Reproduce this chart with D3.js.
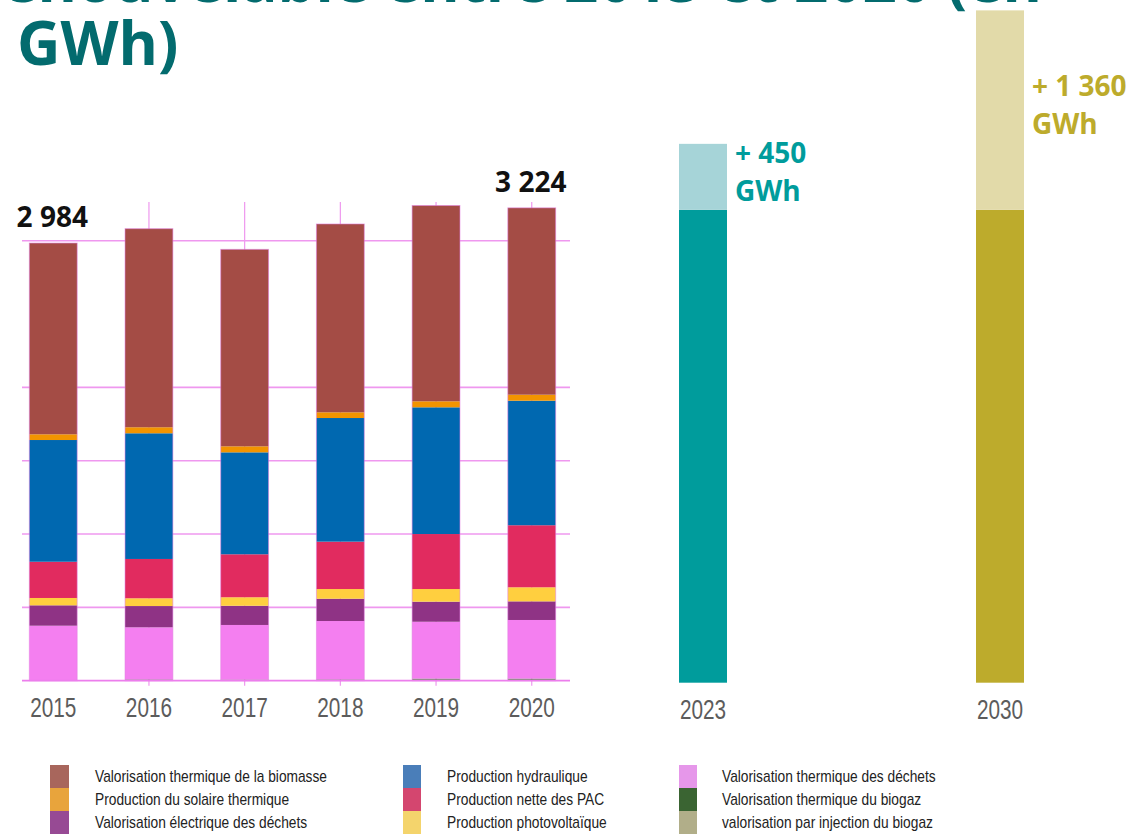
<!DOCTYPE html>
<html>
<head>
<meta charset="utf-8">
<script src="https://cdn.jsdelivr.net/npm/d3@7"></script>
<style>
  body { margin: 0; background: #fff; }
  .title { font-family: "Open Sans", sans-serif; font-weight: 700; fill: #036b6e; }
  .total { font-family: "Open Sans", sans-serif; font-weight: 700; font-size: 28px; fill: #111; }
  .year { font-family: "Liberation Sans", Arial, sans-serif; font-size: 27px; fill: #5c5c5c; }
  .legend text { font-family: "Liberation Sans", Arial, sans-serif; font-size: 16px; fill: #222; }
  .target { font-family: "Open Sans", sans-serif; font-weight: 700; font-size: 28px; }
</style>
</head>
<body>
<div id="chart"></div>
<script>

// yearly production, GWh
var years = ["2015", "2016", "2017", "2018", "2019", "2020"];
var injectionBiogaz = [0, 0, 0, 0, 8, 8];
var thermiqueBiogaz = [4, 8, 7, 8, 6, 6];
var thermiqueDechets = [371, 356, 373, 399, 388, 400];
var electriqueDechets = [139, 145, 131, 152, 137, 127];
var photovoltaique = [50, 53, 58, 66, 86, 96];
var pac = [247, 268, 293, 323, 375, 423];
var hydraulique = [830, 857, 695, 843, 864, 849];
var solaireThermique = [39, 41, 41, 39, 41, 41];
var biomasse = [1304, 1354, 1343, 1284, 1335, 1274];

// years that get a total on top
var labelledYears = ["2015", "2020"];

// targets
var targetYears = ["2023", "2030"];
var targetBase = [3224, 3224];
var targetIncrease = [450, 1360];

var gridValues = [500, 1000, 1500, 2000, 3000];

// series, bottom to top
var seriesKeys = ["injection", "thermBiogaz", "thermDechets", "elecDechets", "pv", "pac", "hydro", "solaire", "biomasse"];
var seriesValues = [injectionBiogaz, thermiqueBiogaz, thermiqueDechets, electriqueDechets, photovoltaique, pac, hydraulique, solaireThermique, biomasse];
var barColors = ["#8c8a72", "#3b6530", "#f47ff0", "#8f3385", "#ffcf3f", "#e12b5f", "#0068b0", "#f29400", "#a44c45"];

// legend, column by column
var legendLabels = [
  "Valorisation thermique de la biomasse",
  "Production du solaire thermique",
  "Valorisation électrique des déchets",
  "Production hydraulique",
  "Production nette des PAC",
  "Production photovoltaïque",
  "Valorisation thermique des déchets",
  "Valorisation thermique du biogaz",
  "valorisation par injection du biogaz"
];
var legendColors = ["#a8665c", "#e8a43c", "#974a94", "#4a7eb9", "#d4466f", "#f4d46c", "#e697ea", "#3a6432", "#b1ae89"];

var svgWidth = 1144;
var svgHeight = 835;

// no narrow font installed, so squeeze the regular one
var yearSqueeze = 0.77;
var legendSqueeze = 0.86;

var svg = d3.select("#chart")
  .append("svg")
  .attr("width", svgWidth)
  .attr("height", svgHeight);

// title (first line is cut off at the top)
svg.append("text")
  .attr("class", "title")
  .attr("x", 1042)
  .attr("y", 2)
  .attr("text-anchor", "end")
  .style("font-size", "60px")
  .text("renouvelable entre 2015 et 2020 (en");

svg.append("text")
  .attr("class", "title")
  .attr("x", 17)
  .attr("y", 65)
  .style("font-size", "60px")
  .text("GWh)");

// build rows for the stack
var rows = years.map(function(year, i) {
  var row = { year: year };
  seriesKeys.forEach(function(k, j) { row[k] = seriesValues[j][i]; });
  return row;
});

var stacked = d3.stack().keys(seriesKeys)(rows);

var x = d3.scaleBand()
  .domain(years)
  .range([5.4, 579.6])
  .paddingInner(0.5)
  .paddingOuter(0.25);

var y = d3.scaleLinear()
  .domain([0, 3000])
  .range([680.7, 240.7]);

var gridColor = "#ef98ef";

// vertical lines at bar centres
svg.append("g")
  .selectAll("line")
  .data(years.slice(1))
  .enter()
  .append("line")
  .attr("x1", d => x(d) + x.bandwidth() / 2)
  .attr("x2", d => x(d) + x.bandwidth() / 2)
  .attr("y1", 202)
  .attr("y2", y(0) + 5)
  .attr("stroke", gridColor)
  .attr("stroke-width", 1.2);

// horizontal grid
svg.append("g")
  .selectAll("line")
  .data(gridValues)
  .enter()
  .append("line")
  .attr("x1", 22)
  .attr("x2", 570)
  .attr("y1", d => y(d))
  .attr("y2", d => y(d))
  .attr("stroke", gridColor)
  .attr("stroke-width", 1.6);

// stacked bars
svg.append("g")
  .selectAll("g")
  .data(stacked)
  .enter()
  .append("g")
  .attr("fill", (d, i) => barColors[i])
  .selectAll("rect")
  .data(d => d)
  .enter()
  .append("rect")
  .attr("x", d => x(d.data.year))
  .attr("width", x.bandwidth())
  .attr("y", d => y(d[1]))
  .attr("height", d => y(d[0]) - y(d[1]));

// thin pink outline round each bar
svg.append("g")
  .selectAll("rect")
  .data(rows)
  .enter()
  .append("rect")
  .attr("x", d => x(d.year))
  .attr("width", x.bandwidth())
  .attr("y", d => y(d3.sum(seriesKeys, k => d[k])))
  .attr("height", d => y(0) - y(d3.sum(seriesKeys, k => d[k])))
  .attr("fill", "none")
  .attr("stroke", "#e27ee2")
  .attr("stroke-opacity", 0.55)
  .attr("stroke-width", 1);

// baseline
svg.append("line")
  .attr("x1", 22)
  .attr("x2", 570)
  .attr("y1", y(0))
  .attr("y2", y(0))
  .attr("stroke", "#ec7eec")
  .attr("stroke-width", 1.8);

// year labels
svg.append("g")
  .selectAll("text")
  .data(years)
  .enter()
  .append("text")
  .attr("class", "year")
  .attr("transform", d => "translate(" + (x(d) + x.bandwidth() / 2) + ",717) scale(" + yearSqueeze + ",1)")
  .attr("text-anchor", "middle")
  .text(d => d);

// totals
var fmt = d3.format(",");
svg.append("g")
  .selectAll("text")
  .data(rows.filter(d => labelledYears.indexOf(d.year) >= 0))
  .enter()
  .append("text")
  .attr("class", "total")
  .attr("x", d => x(d.year) + x.bandwidth() / 2 - 1)
  .attr("y", d => y(d3.sum(seriesKeys, k => d[k])) - 16)
  .attr("text-anchor", "middle")
  .text(d => fmt(d3.sum(seriesKeys, k => d[k])).replace(/,/g, " "));

// targets 2023 / 2030
var xT = d3.scalePoint()
  .domain(targetYears)
  .range([703, 1000]);

var yT = d3.scaleLinear()
  .domain([0, 3000])
  .range([682.7, 242.7]);

var targetDark = ["#009c9c", "#bdab2c"];
var targetLight = ["#a6d4d8", "#e2daa9"];
var barW = 48;

var targets = targetYears.map(function(year, i) {
  return { year: year, base: targetBase[i], inc: targetIncrease[i], i: i };
});

var tg = svg.append("g");

tg.selectAll(".base")
  .data(targets)
  .enter()
  .append("rect")
  .attr("x", d => xT(d.year) - barW / 2)
  .attr("width", barW)
  .attr("y", d => yT(d.base))
  .attr("height", d => yT(0) - yT(d.base))
  .attr("fill", d => targetDark[d.i]);

tg.selectAll(".inc")
  .data(targets)
  .enter()
  .append("rect")
  .attr("x", d => xT(d.year) - barW / 2)
  .attr("width", barW)
  .attr("y", d => yT(d.base + d.inc))
  .attr("height", d => yT(d.base) - yT(d.base + d.inc))
  .attr("fill", d => targetLight[d.i]);

tg.selectAll(".year")
  .data(targets)
  .enter()
  .append("text")
  .attr("class", "year")
  .attr("transform", d => "translate(" + (xT(d.year) + 0) + ",719) scale(" + yearSqueeze + ",1)")
  .attr("text-anchor", "middle")
  .text(d => d.year);

var incLabels = tg.selectAll(".target")
  .data(targets)
  .enter()
  .append("text")
  .attr("class", "target")
  .attr("fill", d => targetDark[d.i])
  .attr("transform", function(d) {
    var mid = (yT(d.base) + yT(d.base + d.inc)) / 2 - 5;
    return "translate(" + (xT(d.year) + barW / 2 + 8) + "," + mid + ")";
  });

incLabels.append("tspan")
  .attr("x", 0)
  .attr("y", -9)
  .text(d => "+ " + fmt(d.inc).replace(/,/g, " "));

incLabels.append("tspan")
  .attr("x", 0)
  .attr("y", 29)
  .text("GWh");

// legend
var legend = svg.append("g").attr("class", "legend");
var colX = [50, 403, 679];
var textX = [95, 447, 722];
var swW = [19, 18, 18];

legendLabels.forEach(function(label, i) {
  var col = Math.floor(i / 3);
  var row = i % 3;
  legend.append("rect")
    .attr("x", colX[col])
    .attr("y", 765 + row * 23)
    .attr("width", swW[col])
    .attr("height", 23)
    .attr("fill", legendColors[i]);
  legend.append("text")
    .attr("transform", "translate(" + textX[col] + "," + (776.5 + row * 23) + ") scale(" + legendSqueeze + ",1)")
    .attr("dy", "0.35em")
    .text(label);
});

</script>
</body>
</html>
